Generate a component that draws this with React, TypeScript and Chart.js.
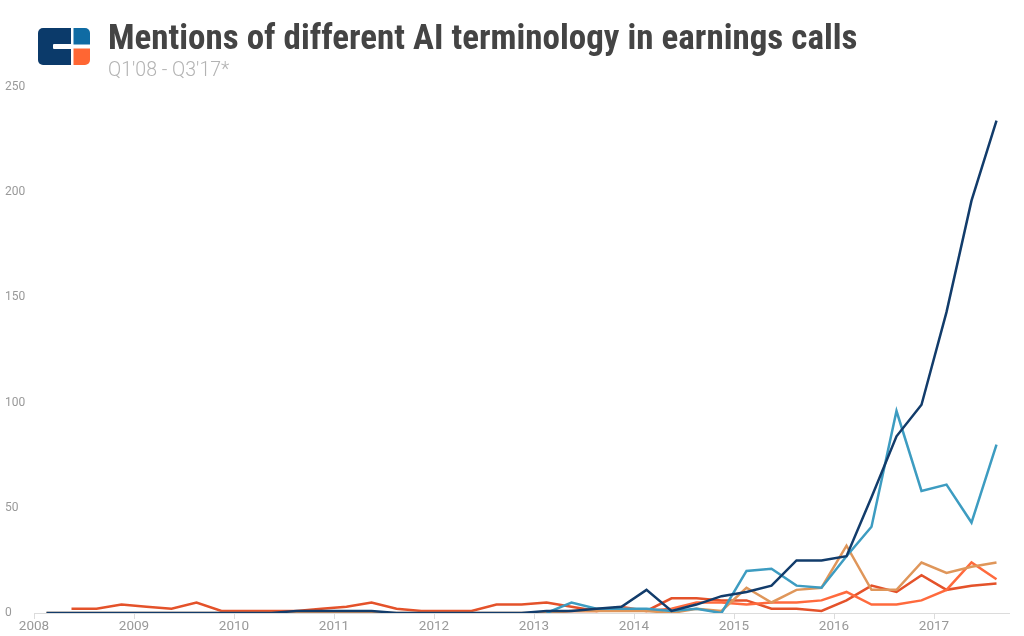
import { useEffect, useRef } from "react";
import { Chart, registerables } from "chart.js";

Chart.register(...registerables);

// quarterly categories, Q1'08 .. Q3'17
const quarters = [
  "Q1'08", "Q2'08", "Q3'08", "Q4'08",
  "Q1'09", "Q2'09", "Q3'09", "Q4'09",
  "Q1'10", "Q2'10", "Q3'10", "Q4'10",
  "Q1'11", "Q2'11", "Q3'11", "Q4'11",
  "Q1'12", "Q2'12", "Q3'12", "Q4'12",
  "Q1'13", "Q2'13", "Q3'13", "Q4'13",
  "Q1'14", "Q2'14", "Q3'14", "Q4'14",
  "Q1'15", "Q2'15", "Q3'15", "Q4'15",
  "Q1'16", "Q2'16", "Q3'16", "Q4'16",
  "Q1'17", "Q2'17", "Q3'17",
];

const yearLabels = ["2008", "2009", "2010", "2011", "2012", "2013", "2014", "2015", "2016", "2017"];

const navySeries = [
  0, 0, 0, 0, 0, 0, 0, 0, 0, 0,
  1, 1, 1, 1, 0, 0, 0, 0, 0, 0,
  1, 1, 2, 3, 11, 1, 4, 8, 10, 13,
  25, 25, 27, 55, 84, 99, 143, 196, 234,
];

const tealSeries = [
  null, null, null, null, null, null, null, null, null, null,
  null, null, null, null, null, null, null, null, null, null,
  0, 5, 2, 2, 2, 1, 2, 0, 20, 21,
  13, 12, 27, 41, 96, 58, 61, 43, 80,
];

const tanSeries = [
  0, 0, 0, 0, 0, 0, 0, 0, 0, 0,
  0, 0, 0, 0, 0, 0, 0, 0, 0, 0,
  0, 1, 1, 1, 1, 0, 2, 1, 12, 5,
  11, 12, 32, 11, 11, 24, 19, 22, 24,
];

const orangeSeries = [
  null, null, null, null, null, null, null, null, null, null,
  null, null, null, null, null, null, null, null, null, null,
  0, 1, 1, 3, 1, 2, 5, 5, 4, 5,
  5, 6, 10, 4, 4, 6, 11, 24, 16,
];

const redSeries = [
  null, 2, 2, 4, 3, 2, 5, 1, 1, 1,
  1, 2, 3, 5, 2, 1, 1, 1, 4, 4,
  5, 3, 1, 2, 1, 7, 7, 6, 6, 2,
  2, 1, 6, 13, 10, 18, 11, 13, 14,
];

const toPoints = (values: (number | null)[]) =>
  quarters.map((_, i) => ({ x: i + 0.5, y: values[i] }));

const Logo = () => (
  <svg
    width={52}
    height={37}
    viewBox="0 0 52 37"
    style={{ position: "absolute", left: 38, top: 28 }}
  >
    <defs>
      <clipPath id="logoClip">
        <rect x={0} y={0} width={52} height={37} rx={5} />
      </clipPath>
    </defs>
    <g clipPath="url(#logoClip)">
      <rect x={0} y={0} width={33} height={37} fill="#0b3a6a" />
      <rect x={15} y={16} width={20} height={5} rx={1} fill="#fff" />
      <rect x={35.5} y={0} width={17} height={16.5} fill="#0f6ba3" />
      <rect x={35.5} y={20.5} width={17} height={17} fill="#ff6633" />
    </g>
  </svg>
);

export default function App() {
  const canvasRef = useRef<HTMLCanvasElement>(null);

  useEffect(() => {
    if (!canvasRef.current) return;
    const ctx = canvasRef.current.getContext("2d");
    if (!ctx) return;

    const line = (label: string, values: (number | null)[], color: string) => ({
      label,
      data: toPoints(values),
      borderColor: color,
      backgroundColor: color,
      borderWidth: 2.5,
      pointRadius: 0,
      tension: 0,
      fill: false,
    });

    const chart = new Chart(ctx, {
      type: "line",
      data: {
        datasets: [
          line("navy", navySeries, "#123c6b"),
          line("teal", tealSeries, "#3d9cc1"),
          line("tan", tanSeries, "#df965a"),
          line("orange", orangeSeries, "#ff6a3d"),
          line("red", redSeries, "#e4522a"),
        ],
      },
      options: {
        animation: false,
        responsive: false,
        maintainAspectRatio: false,
        layout: { padding: { left: 5, right: 15, top: 87, bottom: 0 } },
        plugins: {
          legend: { display: false },
          tooltip: { enabled: false },
        },
        scales: {
          x: {
            type: "linear",
            min: 0,
            max: quarters.length,
            afterFit: (axis: any) => {
              axis.height = 23;
            },
            ticks: {
              stepSize: 4,
              includeBounds: false,
              autoSkip: false,
              maxRotation: 0,
              padding: 0,
              color: "#999",
              font: { family: "Roboto", size: 13.5 },
              callback: (v: any) => yearLabels[Math.round(Number(v) / 4)] ?? "",
            },
            grid: {
              display: true,
              drawOnChartArea: false,
              drawTicks: true,
              tickLength: 6,
              color: "#dcdcdc",
            },
            border: { display: true, color: "#dcdcdc" },
          },
          y: {
            min: 0,
            max: 250,
            afterFit: (axis: any) => {
              axis.width = 29;
            },
            ticks: {
              stepSize: 50,
              crossAlign: "far",
              padding: 0,
              color: "#999",
              font: { family: "Roboto", size: 12 },
            },
            grid: { display: false },
            border: { display: false },
          },
        },
      },
    });

    return () => {
      chart.destroy();
    };
  }, []);

  return (
    <div
      style={{
        position: "fixed",
        left: 0,
        top: 0,
        width: 1024,
        height: 636,
        background: "#fff",
        overflow: "hidden",
      }}
    >
      <canvas
        ref={canvasRef}
        width={1024}
        height={636}
        style={{ position: "absolute", left: 0, top: 0, width: 1024, height: 636 }}
      />
      <Logo />
      <div
        style={{
          position: "absolute",
          left: 108,
          top: 20,
          fontFamily: "'Roboto Condensed', 'Liberation Sans Narrow', 'DejaVu Sans Condensed', sans-serif",
          fontWeight: 700,
          fontSize: 35,
          lineHeight: 1,
          color: "#444",
          whiteSpace: "nowrap",
        }}
      >
        Mentions of different AI terminology in earnings calls
      </div>
      <div
        style={{
          position: "absolute",
          left: 108,
          top: 60,
          fontFamily: "Roboto, sans-serif",
          fontWeight: 300,
          fontSize: 19.5,
          lineHeight: 1,
          color: "#b3b3b3",
          whiteSpace: "nowrap",
        }}
      >
        Q1'08 - Q3'17*
      </div>
    </div>
  );
}
